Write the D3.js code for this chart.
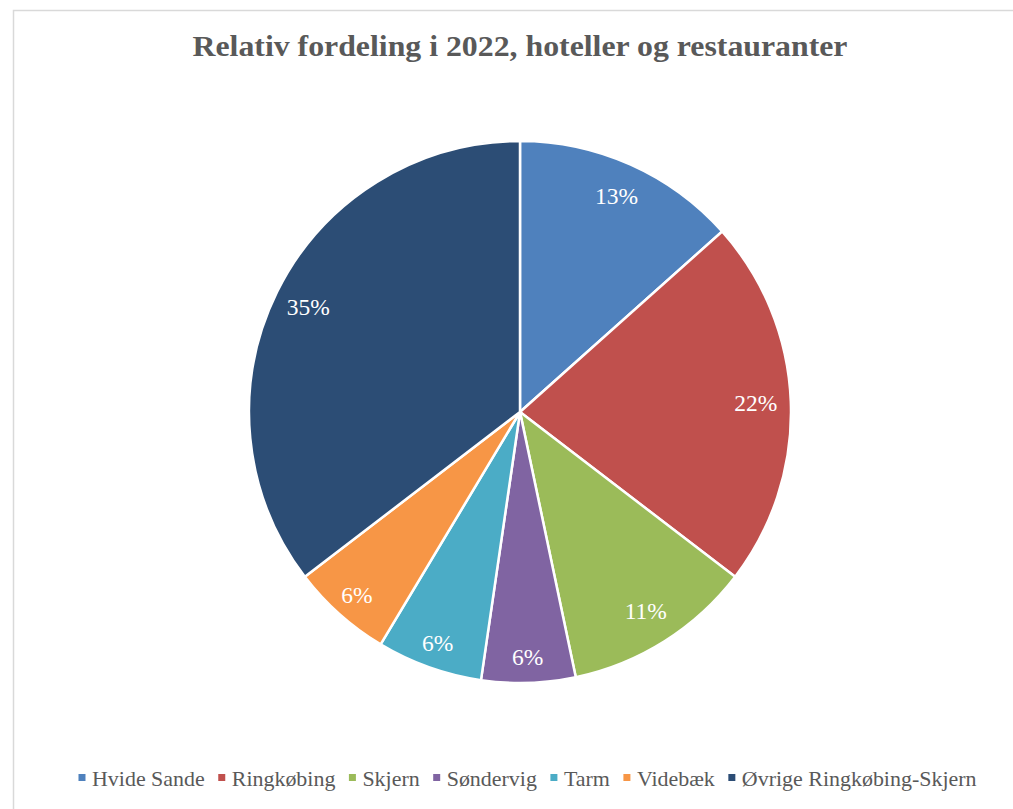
<!DOCTYPE html>
<html><head><meta charset="utf-8">
<script src="https://cdn.jsdelivr.net/npm/d3@7"></script>
<style>html,body{margin:0;padding:0;background:#fff;}svg{display:block;}</style>
</head><body>
<svg id="c" width="1013" height="809"></svg>
<script>
const categories = ["Hvide Sande","Ringkøbing","Skjern","Søndervig","Tarm","Videbæk","Øvrige Ringkøbing-Skjern"];
const values = [13.4, 22.0, 11.3, 5.6, 6.3, 6.0, 35.4];
const colors = ["#4F81BD","#C0504D","#9BBB59","#8064A2","#4BACC6","#F79646","#2C4D75"];
const title = "Relativ fordeling i 2022, hoteller og restauranter";

const svg = d3.select("#c");
svg.append("rect").attr("x",13.5).attr("y",10.5).attr("width",1100).attr("height",900)
  .attr("fill","#fff").attr("stroke","#d9d9d9").attr("stroke-width",1.5);

svg.append("text").attr("x",520).attr("y",56).attr("text-anchor","middle")
  .attr("font-family","Liberation Serif, serif").attr("font-weight","bold").attr("font-size",28.5)
  .attr("textLength",655).attr("lengthAdjust","spacingAndGlyphs")
  .attr("fill","#595959").text(title);

const cx = 520, cy = 412, R = 271;
const data = categories.map((c,i)=>({c, v: values[i], col: colors[i]}));
const pie = d3.pie().sort(null).value(d=>d.v);
const arc = d3.arc().innerRadius(0).outerRadius(R);
const total = d3.sum(values);
// narrow slices get their labels pushed a little further out
const labelPos = d => {
  const r = (d.endAngle - d.startAngle) < 0.45 ? 245 : 236;
  return d3.arc().innerRadius(r).outerRadius(r).centroid(d);
};
const g = svg.append("g").attr("transform",`translate(${cx},${cy})`);
const arcs = pie(data);
g.selectAll("path").data(arcs).join("path").attr("d",arc)
  .attr("fill",d=>d.data.col).attr("stroke","#fff").attr("stroke-width",2.5).attr("stroke-linejoin","round");
g.selectAll("text").data(arcs).join("text")
  .attr("transform",d=>`translate(${labelPos(d)})`)
  .attr("text-anchor","middle").attr("dy","0.33em")
  .attr("font-family","Liberation Serif, serif").attr("font-size",23.5).attr("fill","#fff")
  .text(d=>Math.round(d.data.v/total*100)+"%");

// legend
const lg = svg.append("g");
const fs = 21;
let x = 0;
data.forEach(d=>{
  const it = lg.append("g");
  it.append("rect").attr("x",x).attr("y",-12).attr("width",7).attr("height",7).attr("fill",d.col);
  const t = it.append("text").attr("x",x+13.5).attr("y",0)
    .attr("font-family","Liberation Serif, serif").attr("font-size",fs).attr("fill","#595959").text(d.c);
  const w = t.node().getComputedTextLength() * 1.045;
  t.attr("textLength", w).attr("lengthAdjust","spacingAndGlyphs");
  x += 13.5 + w + 13.5;
});
const totalW = x - 13.5;
lg.attr("transform",`translate(${527.5 - totalW/2},786)`);
</script>
</body></html>
